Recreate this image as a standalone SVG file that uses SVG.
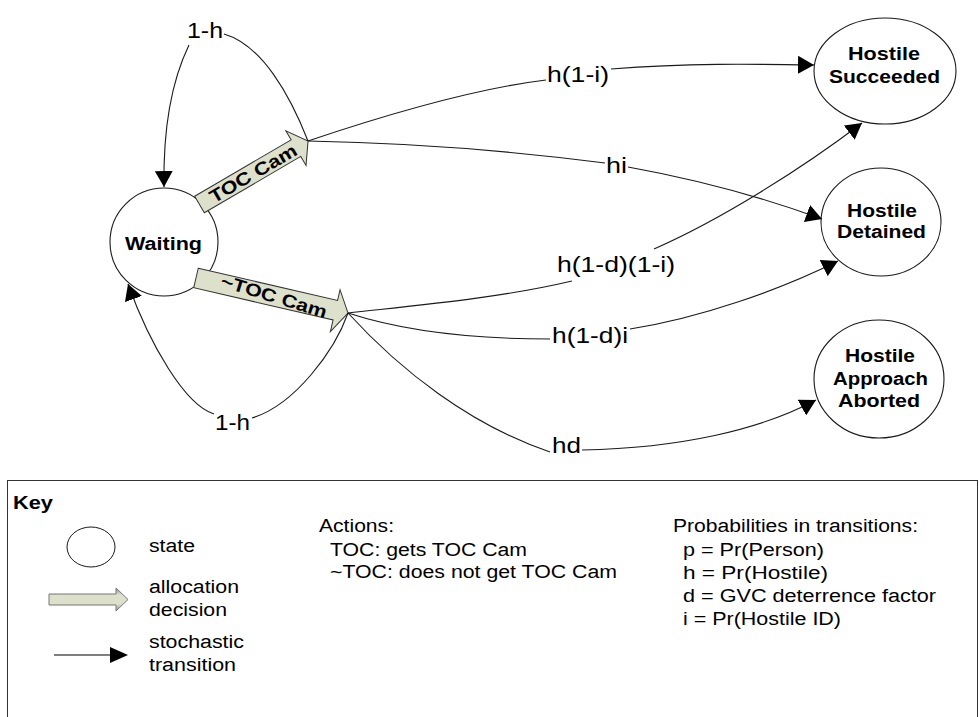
<svg xmlns="http://www.w3.org/2000/svg" width="979" height="717" viewBox="0 0 979 717">
<style>
.edge{fill:none;stroke:#1a1a1a;stroke-width:1.1}
.node{fill:#fff;stroke:#1a1a1a;stroke-width:1.1}
.nt{font-family:"Liberation Sans",Arial,sans-serif;font-weight:bold;font-size:18px;fill:#000;text-anchor:middle}
.lbl{font-family:"Liberation Sans",Arial,sans-serif;font-size:22px;fill:#000}
.kt{font-family:"Liberation Sans",Arial,sans-serif;font-size:18px;fill:#000}
.blk{fill:#dde1cb;stroke:#333;stroke-width:1}
.bt{font-family:"Liberation Sans",Arial,sans-serif;font-weight:bold;font-size:18px;fill:#000;text-anchor:middle}
</style>
<defs>
<marker id="ah" markerUnits="userSpaceOnUse" viewBox="0 0 16 18" refX="16" refY="9" markerWidth="16" markerHeight="18" orient="auto">
<path d="M0,0 L16,9 L0,18 z" fill="#000"/>
</marker>
<linearGradient id="kg" x1="0" y1="0" x2="0" y2="1">
<stop offset="0" stop-color="#8f918a"/>
<stop offset="0.3" stop-color="#dde1cb"/>
<stop offset="0.7" stop-color="#dde1cb"/>
<stop offset="1" stop-color="#8f918a"/>
</linearGradient>
</defs>

<g id="waiting">
<circle class="node" cx="164" cy="242" r="54"/>
<text class="nt" x="163.5" y="250" textLength="77" lengthAdjust="spacingAndGlyphs">Waiting</text>
</g>
<g id="succeeded">
<ellipse class="node" cx="885" cy="71" rx="71" ry="53"/>
<text class="nt" x="884" y="60" textLength="72" lengthAdjust="spacingAndGlyphs">Hostile</text>
<text class="nt" x="884.5" y="83" textLength="111" lengthAdjust="spacingAndGlyphs">Succeeded</text>
</g>
<g id="detained">
<ellipse class="node" cx="881" cy="222" rx="60" ry="54"/>
<text class="nt" x="882" y="217" textLength="70" lengthAdjust="spacingAndGlyphs">Hostile</text>
<text class="nt" x="881.5" y="238" textLength="89" lengthAdjust="spacingAndGlyphs">Detained</text>
</g>
<g id="aborted">
<ellipse class="node" cx="879" cy="379" rx="65" ry="59"/>
<text class="nt" x="880" y="362" textLength="70" lengthAdjust="spacingAndGlyphs">Hostile</text>
<text class="nt" x="880.5" y="385" textLength="95" lengthAdjust="spacingAndGlyphs">Approach</text>
<text class="nt" x="879" y="407" textLength="82" lengthAdjust="spacingAndGlyphs">Aborted</text>
</g>

<g id="toc-cam" transform="translate(199.5,204.5) rotate(-30.3)">
<polygon class="blk" points="0,-9.6 111.7,-9.6 111.7,-20 125.7,0 111.7,20 111.7,9.6 0,9.6"/>
<text class="bt" x="62" y="6.5" textLength="98" lengthAdjust="spacingAndGlyphs">TOC Cam</text>
</g>
<g id="not-toc-cam" transform="translate(196,278) rotate(13)">
<polygon class="blk" points="0,-10 143,-10 143,-21 156,0 143,22 143,10 0,10"/>
<text class="bt" transform="translate(80,0) rotate(4)" x="0" y="6.5" textLength="110" lengthAdjust="spacingAndGlyphs">~TOC Cam</text>
</g>

<g id="connectors">
<path class="edge" d="M308,141 C290,95 262,45 224,34"/>
<path class="edge" d="M189,45 C172,80 163,125 164,187" marker-end="url(#ah)"/>
<path class="edge" d="M348,313 C335,350 295,405 252,418"/>
<path class="edge" d="M214,414 C185,405 150,345 128,284" marker-end="url(#ah)"/>
<path class="edge" d="M308,141 C400,110 480,88 546,80"/>
<path class="edge" d="M611,69 C690,63 750,64 814,65" marker-end="url(#ah)"/>
<path class="edge" d="M308,141 C420,143 520,152 605,163"/>
<path class="edge" d="M628,167 C700,180 770,200 822,219" marker-end="url(#ah)"/>
<path class="edge" d="M348,313 C420,305 500,298 572,281"/>
<path class="edge" d="M654,249 C720,220 800,170 862,123" marker-end="url(#ah)"/>
<path class="edge" d="M348,313 C400,330 470,339 550,339"/>
<path class="edge" d="M630,329 C700,318 780,290 838,261" marker-end="url(#ah)"/>
<path class="edge" d="M348,313 C400,370 470,425 550,452"/>
<path class="edge" d="M582,450 C680,448 760,430 816,400" marker-end="url(#ah)"/>
</g>

<g id="edge-labels">
<text class="lbl" x="187" y="38" textLength="36" lengthAdjust="spacingAndGlyphs">1-h</text>
<text class="lbl" x="547" y="82" textLength="62" lengthAdjust="spacingAndGlyphs">h(1-i)</text>
<text class="lbl" x="606" y="173" textLength="21" lengthAdjust="spacingAndGlyphs">hi</text>
<text class="lbl" x="557" y="272" textLength="118" lengthAdjust="spacingAndGlyphs">h(1-d)(1-i)</text>
<text class="lbl" x="552" y="343" textLength="76" lengthAdjust="spacingAndGlyphs">h(1-d)i</text>
<text class="lbl" x="552" y="453" textLength="29" lengthAdjust="spacingAndGlyphs">hd</text>
<text class="lbl" x="215" y="430" textLength="35" lengthAdjust="spacingAndGlyphs">1-h</text>
</g>

<g id="key">
<rect x="7.5" y="480.5" width="970" height="260" fill="#fff" stroke="#333" stroke-width="1"/>
<text class="kt" x="13" y="509" font-weight="bold" textLength="40" lengthAdjust="spacingAndGlyphs">Key</text>
<ellipse cx="91" cy="547" rx="24" ry="20" fill="#fff" stroke="#1a1a1a" stroke-width="1"/>
<text class="kt" x="149" y="552" textLength="46" lengthAdjust="spacingAndGlyphs">state</text>
<polygon points="49,594 116,594 116,588 128,599.5 116,611 116,605 49,605" fill="url(#kg)" stroke="#777" stroke-width="1"/>
<text class="kt" x="149" y="593" textLength="90" lengthAdjust="spacingAndGlyphs">allocation</text>
<text class="kt" x="149" y="616" textLength="78" lengthAdjust="spacingAndGlyphs">decision</text>
<line x1="54" y1="655" x2="111" y2="655" stroke="#555" stroke-width="1.5"/>
<polygon points="110,647 128,655 110,663" fill="#000"/>
<text class="kt" x="149" y="648" textLength="95" lengthAdjust="spacingAndGlyphs">stochastic</text>
<text class="kt" x="149" y="671" textLength="87" lengthAdjust="spacingAndGlyphs">transition</text>
<text class="kt" x="319" y="532" textLength="75" lengthAdjust="spacingAndGlyphs">Actions:</text>
<text class="kt" x="330" y="556" textLength="197" lengthAdjust="spacingAndGlyphs">TOC: gets TOC Cam</text>
<text class="kt" x="330" y="578" textLength="287" lengthAdjust="spacingAndGlyphs">~TOC: does not get TOC Cam</text>
<text class="kt" x="673" y="532" textLength="245" lengthAdjust="spacingAndGlyphs">Probabilities in transitions:</text>
<text class="kt" x="683" y="556" textLength="141" lengthAdjust="spacingAndGlyphs">p = Pr(Person)</text>
<text class="kt" x="683" y="579" textLength="145" lengthAdjust="spacingAndGlyphs">h = Pr(Hostile)</text>
<text class="kt" x="683" y="602" textLength="253" lengthAdjust="spacingAndGlyphs">d = GVC deterrence factor</text>
<text class="kt" x="683" y="625" textLength="158" lengthAdjust="spacingAndGlyphs">i = Pr(Hostile ID)</text>
</g>
</svg>
